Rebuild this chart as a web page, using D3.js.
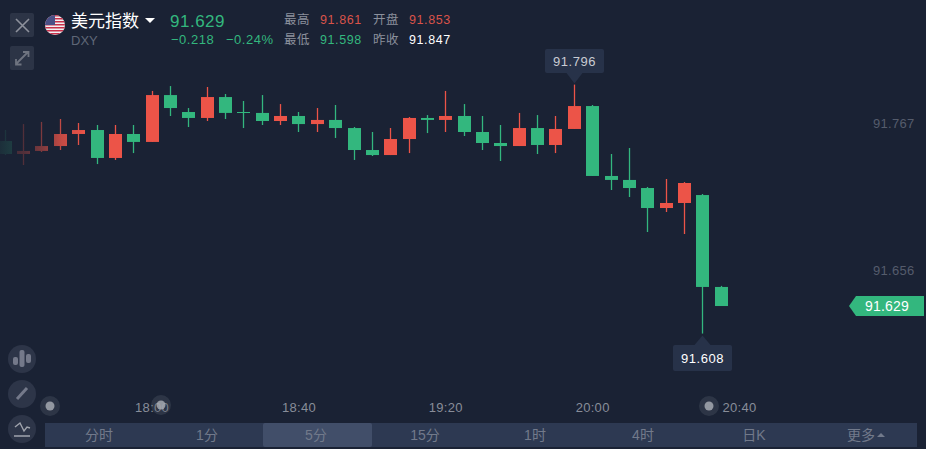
<!DOCTYPE html>
<html>
<head>
<meta charset="utf-8">
<script src="https://cdn.jsdelivr.net/npm/d3@7"></script>
<style>
    html, body { margin: 0; padding: 0; background: #1a2234; overflow: hidden; }
    text { font-family: "Liberation Sans", "Noto Sans CJK SC", sans-serif; }
</style>
</head>
<body>
<div id="chart"></div>
<script>
// candle data, 5 minute bars
const times = ["17:20","17:25","17:30","17:35","17:40","17:45","17:50","17:55","18:00","18:05","18:10","18:15","18:20","18:25","18:30","18:35","18:40","18:45","18:50","18:55","19:00","19:05","19:10","19:15","19:20","19:25","19:30","19:35","19:40","19:45","19:50","19:55","20:00","20:05","20:10","20:15","20:20","20:25","20:30","20:35"];
const opens = [91.7534,91.7436,91.7459,91.7496,91.7587,91.7617,91.7406,91.7587,91.7527,91.7881,91.7753,91.7708,91.7866,91.7753,91.7746,91.7685,91.7723,91.7662,91.7693,91.7632,91.7466,91.7428,91.7549,91.7708,91.7693,91.7723,91.7602,91.7519,91.7496,91.7632,91.7504,91.7625,91.7798,91.7270,91.7240,91.7179,91.7028,91.7066,91.7126,91.6432];
const closes = [91.7436,91.7459,91.7496,91.7587,91.7617,91.7406,91.7587,91.7527,91.7881,91.7783,91.7708,91.7866,91.7746,91.7746,91.7685,91.7723,91.7662,91.7693,91.7632,91.7466,91.7428,91.7549,91.7708,91.7693,91.7723,91.7602,91.7519,91.7496,91.7632,91.7504,91.7625,91.7798,91.7270,91.7240,91.7179,91.7028,91.7066,91.7217,91.6432,91.6288];
const highs = [91.7617,91.7662,91.7678,91.7700,91.7670,91.7655,91.7655,91.7655,91.7912,91.7949,91.7783,91.7942,91.7889,91.7836,91.7881,91.7813,91.7753,91.7783,91.7806,91.7640,91.7602,91.7632,91.7715,91.7730,91.7912,91.7813,91.7723,91.7655,91.7746,91.7730,91.7723,91.7960,91.7806,91.7436,91.7481,91.7187,91.7247,91.7224,91.7134,91.6440];
const lows = [91.7428,91.7353,91.7451,91.7466,91.7504,91.7360,91.7391,91.7443,91.7527,91.7723,91.7640,91.7685,91.7700,91.7632,91.7655,91.7655,91.7602,91.7602,91.7557,91.7391,91.7421,91.7428,91.7443,91.7594,91.7602,91.7572,91.7466,91.7383,91.7496,91.7436,91.7443,91.7625,91.7270,91.7164,91.7111,91.6847,91.6998,91.6832,91.6080,91.6288];

const priceTicks = [91.767, 91.656];
const timeTicks = ["18:00", "18:40", "19:20", "20:00", "20:40"];
const tabs = ["分时", "1分", "5分", "15分", "1时", "4时", "日K", "更多"];
const tabCenters = [99, 207, 316, 425, 535, 643, 754, 861];

const infoLabels = [["最高", "91.861", "开盘", "91.853"], ["最低", "91.598", "昨收", "91.847"]];

const RED = "#ec5448", GREEN = "#33b77e", BG = "#1a2234";

const width = 926, height = 449;

const svg = d3.select("#chart").append("svg")
    .attr("width", width)
    .attr("height", height)
    .style("display", "block");

svg.append("rect").attr("width", width).attr("height", height).attr("fill", BG);

//scales
const parseTime = d3.timeParse("%H:%M");
const xScale = d3.scaleTime()
    .domain([parseTime("18:00"), parseTime("20:40")])
    .range([152.1, 739.5]);
const yScale = d3.scaleLinear()
    .domain([91.656, 91.767])
    .range([270, 123]);

const candles = times.map((t, i) => ({ t: parseTime(t), o: opens[i], c: closes[i], h: highs[i], l: lows[i] }));
const bodyW = 13;
const candleX = d => Math.floor(xScale(d.t)) + 0.5;

//candles, red is up and green is down on this chart
const candleG = svg.append("g")
    .selectAll("g")
    .data(candles)
    .enter()
    .append("g")
    .attr("fill", d => d.c > d.o ? RED : GREEN)
    .attr("stroke", d => d.c > d.o ? RED : GREEN);

candleG.append("line")
    .attr("x1", candleX)
    .attr("x2", candleX)
    .attr("y1", d => yScale(d.h))
    .attr("y2", d => yScale(d.l))
    .attr("stroke-width", 1.3);

candleG.append("rect")
    .attr("x", d => candleX(d) - bodyW / 2)
    .attr("width", bodyW)
    .attr("y", d => yScale(Math.max(d.o, d.c)))
    .attr("height", d => Math.max(1, Math.abs(yScale(d.o) - yScale(d.c))))
    .attr("stroke", "none");

//old candles fade out to the left
const defs = svg.append("defs");
const fade = defs.append("linearGradient").attr("id", "fade");
[[0, 0.92], [0.3, 0.72], [0.5, 0.52], [0.72, 0.2], [1, 0]].forEach(s => {
    fade.append("stop").attr("offset", s[0]).attr("stop-color", BG).attr("stop-opacity", s[1]);
});
svg.append("rect").attr("x", 0).attr("y", 100).attr("width", 85).attr("height", 80).attr("fill", "url(#fade)");

//axes
const yAxis = d3.axisRight(yScale).tickValues(priceTicks).tickSize(0).tickPadding(0).tickFormat(d3.format(".3f"));
const yG = svg.append("g").attr("transform", "translate(873,0)").call(yAxis);
yG.select(".domain").remove();
yG.selectAll("text").attr("fill", "#555c6c").style("font-size", "13px").style("letter-spacing", "0.3px");

const xAxis = d3.axisBottom(xScale)
    .tickValues(timeTicks.map(parseTime))
    .tickSize(0)
    .tickPadding(0)
    .tickFormat(d3.timeFormat("%H:%M"));
const xG = svg.append("g").attr("transform", "translate(-0.5,403)").call(xAxis);
xG.select(".domain").remove();
xG.selectAll("text").attr("fill", "#888d99").style("font-size", "13px").style("letter-spacing", "0.3px");

//high and low callouts
function callout(price, rectTop, up) {
    const hit = candles.find(d => (up ? d.h : d.l) === price);
    const cx = candleX(hit);
    const tipY = yScale(price) + (up ? -1 : 2);
    const baseY = up ? rectTop + 24 : rectTop;
    const g = svg.append("g");
    g.append("rect").attr("x", cx - 29.5).attr("y", rectTop).attr("width", 59).attr("height", up ? 24 : 26)
        .attr("rx", 2).attr("fill", "#273249");
    g.append("path").attr("d", `M${cx - 8},${baseY}L${cx + 8},${baseY}L${cx},${tipY}Z`).attr("fill", "#273249");
    g.append("text").attr("x", cx).attr("y", rectTop + (up ? 17 : 18)).attr("text-anchor", "middle")
        .attr("fill", up ? "#c9ccd3" : "#fff").style("font-size", "13px").style("letter-spacing", "0.5px")
        .text(d3.format(".3f")(price));
}
callout(d3.max(highs), 49, true);
callout(d3.min(lows), 345, false);

//last price tag
const lastY = yScale(closes[closes.length - 1]);
svg.append("path")
    .attr("d", `M849,${lastY}L856,${lastY - 10}L924,${lastY - 10}L924,${lastY + 10}L856,${lastY + 10}Z`)
    .attr("fill", GREEN);
svg.append("text").attr("x", 887).attr("y", lastY + 5).attr("text-anchor", "middle")
    .attr("fill", "#fff").style("font-size", "14px").style("letter-spacing", "0.2px").text("91.629");

//header buttons
[13, 46].forEach(y => {
    svg.append("rect").attr("x", 10).attr("y", y).attr("width", 24).attr("height", 24).attr("rx", 2).attr("fill", "#2c3446");
});
svg.append("path").attr("d", "M16,19L29,32M29,19L16,32").attr("stroke", "#8d919c").attr("stroke-width", 1.6).attr("fill", "none");
svg.append("path").attr("d", "M16,64L28,52M23,52L28.500,52L28.500,57M16,59L16,64.500L21.500,64.500").attr("stroke", "#6f7480").attr("stroke-width", 1.8).attr("fill", "none");

//flag
defs.append("clipPath").attr("id", "flagClip").append("circle").attr("cx", 55).attr("cy", 25).attr("r", 10);
const flag = svg.append("g").attr("clip-path", "url(#flagClip)");
flag.append("rect").attr("x", 45).attr("y", 15).attr("width", 20).attr("height", 20).attr("fill", "#f2f0f2");
d3.range(0, 7).forEach(k => {
    flag.append("rect").attr("x", 45).attr("y", 15 + k * 3).attr("width", 20).attr("height", 1.5).attr("fill", "#c8304a");
});
flag.append("rect").attr("x", 45).attr("y", 15).attr("width", 10).attr("height", 10).attr("fill", "#4a4f85");

//header text
const header = svg.append("g");
header.append("text").attr("x", 71).attr("y", 27).attr("fill", "#fff").style("font-size", "17px").text("美元指数");
header.append("path").attr("d", "M145,18L155,18L150,23Z").attr("fill", "#fff");
header.append("text").attr("x", 71).attr("y", 45).attr("fill", "#5f6777").style("font-size", "13px").text("DXY");
header.append("text").attr("x", 170).attr("y", 27).attr("fill", GREEN).style("font-size", "17px").style("letter-spacing", "0.5px").text("91.629");
header.append("text").attr("x", 171).attr("y", 44).attr("fill", GREEN).style("font-size", "13px").style("letter-spacing", "0.5px").text("−0.218");
header.append("text").attr("x", 226).attr("y", 44).attr("fill", GREEN).style("font-size", "13px").style("letter-spacing", "0.5px").text("−0.24%");

const infoColors = [["#8b909c", "#d9534a", "#8b909c", "#d9534a"], ["#8b909c", GREEN, "#8b909c", "#fff"]];
const infoX = [284, 320, 373, 409];
infoLabels.forEach((row, r) => {
    row.forEach((txt, c) => {
        header.append("text").attr("x", infoX[c]).attr("y", r === 0 ? 24 : 44)
            .attr("fill", infoColors[r][c])
            .style("font-size", "12.500px")
            .style("letter-spacing", "0.6px")
            .text(txt);
    });
});

//left tool buttons
[359, 394, 429].forEach(cy => {
    svg.append("circle").attr("cx", 22).attr("cy", cy).attr("r", 14).attr("fill", "#2d3548");
});
const icon = "#74798a";
svg.append("rect").attr("x", 13).attr("y", 357).attr("width", 5).attr("height", 8).attr("rx", 2).attr("fill", icon);
svg.append("rect").attr("x", 19.500).attr("y", 350).attr("width", 5).attr("height", 17).attr("rx", 2).attr("fill", icon);
svg.append("rect").attr("x", 26).attr("y", 354).attr("width", 5).attr("height", 9).attr("rx", 2).attr("fill", icon);
svg.append("path").attr("d", "M17,399L27,388").attr("stroke", icon).attr("stroke-width", 3);
svg.append("path").attr("d", "M15,427L20,423L24,431L27,427L30,428M14,436L30,436").attr("stroke", "#a0a4ad").attr("stroke-width", 1.4).attr("fill", "none");

//tab bar
svg.append("rect").attr("x", 45).attr("y", 423).attr("width", 872).attr("height", 24).attr("fill", "#2d3952");
svg.append("rect").attr("x", 263).attr("y", 423).attr("width", 109).attr("height", 24).attr("rx", 2).attr("fill", "#414e69");
svg.append("g").selectAll("text")
    .data(tabs)
    .enter()
    .append("text")
    .attr("x", (d, i) => tabCenters[i])
    .attr("y", 440)
    .attr("text-anchor", "middle")
    .attr("fill", "#727a8b")
    .style("font-size", "14px")
    .text(d => d);
svg.append("path").attr("d", "M877,437L885,437L881,433Z").attr("fill", "#727a8b");

//range slider handles sit on top of the axis labels
[[50, 406], [161, 405], [709, 406]].forEach(p => {
    svg.append("circle").attr("cx", p[0]).attr("cy", p[1]).attr("r", 10).attr("fill", "#5b6272").attr("fill-opacity", 0.3);
    svg.append("circle").attr("cx", p[0]).attr("cy", p[1]).attr("r", 4.5).attr("fill", "#a6a9b2").attr("fill-opacity", 0.85);
});
</script>
</body>
</html>
